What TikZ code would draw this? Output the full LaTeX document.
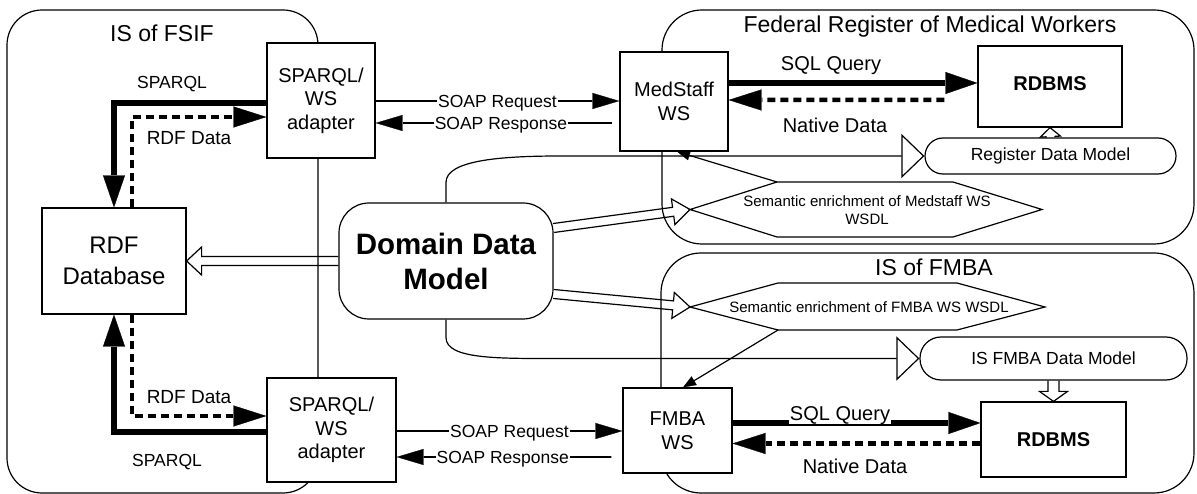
\documentclass[tikz,border=0pt]{standalone}
\usepackage{fontspec}
\setmainfont{Liberation Sans}
\usetikzlibrary{arrows.meta,calc}
\newcommand{\fsz}[2]{\fontsize{#1bp}{#2bp}\selectfont}
% hollow (double-shaft) arrow: from, to, shaft half width, head half width, head length
\newcommand{\hollowarrow}[5]{%
  \coordinate (habase) at ($(#2)!#5!(#1)$);
  \draw[hollow] ($(#1)!#3!90:(#2)$) -- ($(habase)!#3!-90:(#1)$) -- ($(habase)!#4!-90:(#1)$) -- (#2)
     -- ($(habase)!#4!90:(#1)$) -- ($(habase)!#3!90:(#1)$) -- ($(#1)!#3!-90:(#2)$);
}
\begin{document}
\begin{tikzpicture}[x=1bp,y=-1bp,
  cont/.style={draw, line width=1.2bp},
  box/.style={draw, fill=white, line width=1.2bp, inner sep=0pt, align=center},
  title/.style={font=\fsz{23}{27}, inner sep=0pt, text height=16.5bp, text depth=0bp},
  l17/.style={font=\fsz{17.5}{20}, inner ysep=1bp, inner xsep=1bp, text height=12.6bp, text depth=0bp},
  l19/.style={font=\fsz{19}{22}, inner sep=1bp, text height=13.7bp, text depth=0bp},
  l20/.style={font=\fsz{20}{23}, inner sep=1bp, text height=14.4bp, text depth=0bp},
  hex/.style={draw, fill=white, line width=1.2bp, line join=miter},
  hollow/.style={draw, line width=1.2bp, line join=miter},
  thickarr/.style={line width=5.5bp, line join=miter, -{Triangle[length=32bp,width=22bp,line width=0.3bp]}},
  dasharr/.style={line width=4.5bp, dash pattern=on 8bp off 5bp, -{Triangle[length=33bp,width=21bp,line width=0.3bp]}},
  soap/.style={line width=1.8bp, -{Triangle[length=27bp,width=16bp,line width=0.3bp]}},
  thinarr/.style={line width=1.2bp, -{Triangle[length=13bp,width=10bp,line width=0.3bp]}},
  modelconn/.style={line width=1.2bp, -{Triangle[length=23bp,width=44bp,fill=white]}},
]
\fill[white] (0,0) rectangle (1197,494);
\useasboundingbox (0,0) rectangle (1197,494);

% containers
\draw[cont, rounded corners=35bp] (7,10) rectangle (318,493);
\draw[cont, rounded corners=40bp] (662,10) rectangle (1194,244);
\draw[cont, rounded corners=40bp] (661,253) rectangle (1194,493);

% titles
\node[title] (tfsif) at (162,33) {IS of FSIF};
\node[title] (tfed) at (930,24) {Federal Register of Medical Workers};
\node[title] (tfmba) at (934,267) {IS of FMBA};

% boxes
\node[box, minimum width=108bp, minimum height=115bp, font=\fsz{20}{23.5}] (ad1) at (321,100.5) {SPARQL/\\WS\\adapter};
\node[box, minimum width=129bp, minimum height=104bp, font=\fsz{20}{23.5}] (ad2) at (331.5,430) {SPARQL/\\WS\\adapter};
\node[box, minimum width=108bp, minimum height=99bp, font=\fsz{20}{24}] (ms) at (674,101.5) {MedStaff\\WS};
\node[box, minimum width=109bp, minimum height=85bp, font=\fsz{20}{24}] (fw) at (677.5,430.5) {FMBA\\WS};
\node[box, minimum width=144bp, minimum height=81bp, text depth=6bp, font=\bfseries\fsz{20}{24}] (db1) at (1050,86.5) {RDBMS};
\node[box, minimum width=145bp, minimum height=75bp, font=\bfseries\fsz{20}{24}] (db2) at (1053.5,439.5) {RDBMS};
\node[box, minimum width=144bp, minimum height=106bp, font=\fsz{24}{31}] (rdf) at (114,261) {RDF\\Database};
\node[box, rounded corners=30bp, minimum width=214bp, minimum height=116bp, font=\bfseries\fsz{29.5}{35}] (ddm) at (446,261) {Domain Data\\Model};
\node[box, rounded corners=18bp, minimum width=251bp, minimum height=36bp, font=\fsz{17.5}{20}] (regdm) at (1050.5,156) {Register Data Model};
\node[box, rounded corners=21bp, minimum width=267bp, minimum height=43bp, font=\fsz{17.5}{20}] (fmbadm) at (1053.5,358.5) {IS FMBA Data Model};

% hexagons (semantic enrichment)
\draw[hex] (690,209.5) coordinate (h1w) -- (777,182) coordinate (h1tl) -- (953,182) -- (1042,209.5) -- (953,237) -- (777,237) -- cycle;
\node[font=\fsz{15}{18}, align=center, inner sep=0pt] (h1t) at (867,210) {Semantic enrichment of Medstaff WS\\WSDL};
\draw[hex] (690,307) coordinate (h2w) -- (778,283) -- (957,283) -- (1045,307) -- (957,330) -- (778,330) coordinate (h2bl) -- cycle;
\node[font=\fsz{15}{18}, inner sep=0pt] (h2t) at (869,307) {Semantic enrichment of FMBA WS WSDL};

% model connectors
\draw[modelconn] (ddm.north) -- ++(0,-20) .. controls +(0,-22) and +(-60,0) .. (560,156) -- (regdm.west);
\draw[modelconn] (ddm.south) -- ++(0,18) .. controls +(0,22) and +(-60,0) .. (560,358.5) -- (fmbadm.west);

% hollow arrows
\coordinate (ddmR1) at ($(ddm.east)+(0,-33)$);
\coordinate (ddmR2) at ($(ddm.east)+(0,33)$);
\hollowarrow{ddm.west}{rdf.east}{4.5bp}{14bp}{15bp}
\hollowarrow{ddmR1}{h1w}{4.5bp}{13bp}{17bp}
\hollowarrow{ddmR2}{h2w}{4.5bp}{13bp}{17bp}
\hollowarrow{regdm.north}{db1.south}{4.5bp}{10bp}{9bp}
\hollowarrow{fmbadm.south}{db2.north}{5.5bp}{14bp}{10bp}

% SPARQL / RDF data
\draw[thickarr] ($(ad1.west)+(0,2.5)$) -| (rdf.north);
\draw[dasharr] ($(rdf.north)+(18,0)$) |- ($(ad1.west)+(0,16.5)$);
\draw[thickarr] ($(ad2.west)+(0,2)$) -| (rdf.south);
\draw[dasharr] ($(rdf.south)+(18,0)$) |- ($(ad2.west)+(0,-14)$);
\node[l17] (lsp1) at (172,82) {SPARQL};
\node[l19] (lrdf1) at (189,138) {RDF Data};
\node[l19] (lrdf2) at (189,397) {RDF Data};
\node[l17] (lsp2) at (167,460) {SPARQL};

% SOAP
\draw[soap] ($(ad1.east)+(0,0.5)$) -- node[l17, fill=white, pos=0.5] (lreq1) {SOAP Request} ($(ms.west)+(0,-0.5)$);
\draw[soap, shorten <=7bp] ($(ms.west)+(0,21.5)$) -- node[l17, fill=white, pos=0.486] (lres1) {SOAP Response} ($(ad1.east)+(0,22.5)$);
\draw[soap] ($(ad2.east)+(0,1)$) -- node[l17, fill=white, pos=0.5] (lreq2) {SOAP Request} ($(fw.west)+(0,0.5)$);
\draw[soap, shorten <=11bp] ($(fw.west)+(0,26.5)$) -- node[l17, fill=white, pos=0.53] (lres2) {SOAP Response} ($(ad2.east)+(0,27)$);

% SQL / native data
\draw[thickarr] ($(ms.east)+(0,-18.5)$) -- ($(db1.west)+(0,-3.5)$);
\draw[dasharr, shorten <=33bp] ($(db1.west)+(0,13.5)$) -- ($(ms.east)+(0,-1.5)$);
\draw[thickarr] ($(fw.east)+(0,-7.5)$) -- ($(db2.west)+(0,-16.5)$);
\draw[dasharr] ($(db2.west)+(0,4)$) -- ($(fw.east)+(0,13)$);
\node[l20] (lsql1) at (831,63) {SQL Query};
\node[l20] (lnat1) at (835,125) {Native Data};
\node[l20, fill=white, text depth=2.5bp, anchor=base] (lsql2) at (840,420.2) {SQL Query};
\node[l20] (lnat2) at (855,466) {Native Data};

% enrichment -> web services
\draw[thinarr] (h1tl) -- ($(ms.south)+(3,0)$);
\draw[thinarr] (h2bl) -- ($(fw.north)+(5.5,0)$);
\end{tikzpicture}
\end{document}
